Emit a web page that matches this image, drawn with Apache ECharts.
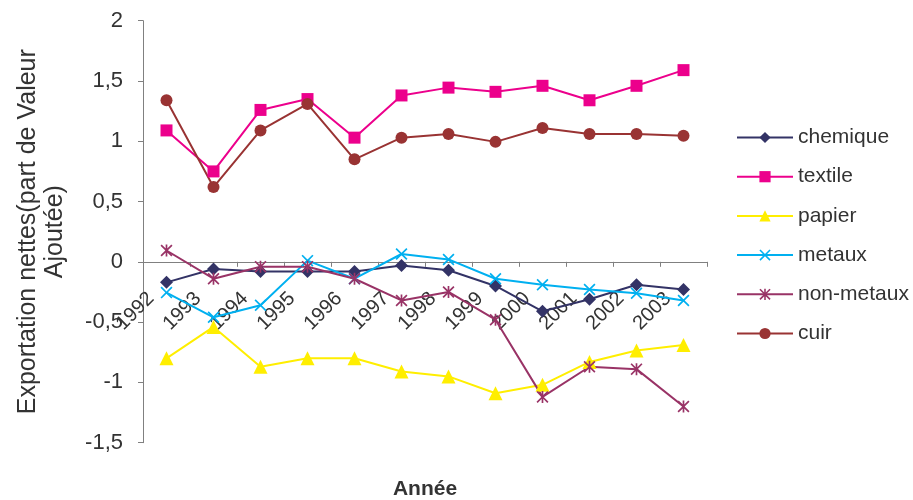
<!DOCTYPE html>
<html>
<head>
<meta charset="utf-8">
<script src="https://cdn.jsdelivr.net/npm/echarts@6/dist/echarts.min.js"></script>
<style>html,body{margin:0;padding:0;background:#fff}#c{width:913px;height:500px}</style>
</head>
<body>
<div id="c"></div>
<script>
const years = ['1992','1993','1994','1995','1996','1997','1998','1999','2000','2001','2002','2003'];
const chemique   = [-0.17,-0.06,-0.08,-0.08,-0.08,-0.03,-0.07,-0.20,-0.41,-0.31,-0.19,-0.23];
const textile    = [1.09,0.75,1.26,1.35,1.03,1.38,1.445,1.41,1.46,1.34,1.46,1.59];
const papier     = [-0.80,-0.54,-0.87,-0.80,-0.80,-0.91,-0.95,-1.09,-1.02,-0.83,-0.735,-0.69];
const metaux     = [-0.255,-0.46,-0.36,0.01,-0.14,0.065,0.02,-0.14,-0.19,-0.23,-0.26,-0.32];
const nonMetaux  = [0.094,-0.14,-0.04,-0.04,-0.14,-0.32,-0.25,-0.48,-1.12,-0.87,-0.89,-1.20];
const cuir       = [1.34,0.62,1.09,1.31,0.85,1.03,1.06,0.995,1.11,1.06,1.06,1.045];
const seriesNames = ['chemique','textile','papier','metaux','non-metaux','cuir'];

const X_PATH = 'path://M10 0L50 40L90 0L100 10L60 50L100 90L90 100L50 60L10 100L0 90L40 50L0 10Z';
const STAR_PATH = 'path://M10 0L50 40L90 0L100 10L60 50L100 90L90 100L50 60L10 100L0 90L40 50L0 10Z M43 0L57 0L57 100L43 100Z';

const FONT = 'Liberation Sans, Arial, sans-serif';
const TXT = '#333333';
const Y_MIN = -1.5, Y_MAX = 2;

function mk(name, data, color, symbol, size) {
  return {
    name: name, type: 'line', data: data,
    symbol: symbol, symbolSize: size,
    showAllSymbol: true,
    itemStyle: { color: color },
    lineStyle: { color: color, width: 2 },
    emphasis: { disabled: true },
    animation: false
  };
}

const chart = echarts.init(document.getElementById('c'), null, { renderer: 'canvas' });
chart.setOption({
  animation: false,
  grid: { left: 143, right: 206, top: 20.7, bottom: 57.3, containLabel: false, outerBoundsMode: 'none' },
  legend: {
    orient: 'vertical', left: 736, top: 127, padding: 0,
    itemWidth: 56, itemHeight: 14, itemGap: 18.2,
    data: seriesNames,
    textStyle: { fontFamily: FONT, fontSize: 21, color: TXT, lineHeight: 20 }
  },
  xAxis: [{
    type: 'category', data: years, boundaryGap: true, position: 'bottom',
    axisLine: { onZero: false, lineStyle: { color: '#808080', width: 1 } },
    axisTick: { show: true, length: 5, alignWithLabel: false, lineStyle: { color: '#808080' } },
    axisLabel: { interval: 0, rotate: 45, margin: 18, padding: [0, 22, 0, 0],
      fontFamily: FONT, fontSize: 20, color: TXT },
    splitLine: { show: false }
  }, {
    type: 'category', data: years, position: 'bottom',
    axisLine: { show: false, onZero: false }, axisTick: { show: false }, axisLabel: { show: false },
    name: 'Année', nameLocation: 'middle', nameGap: 36,
    nameTextStyle: { fontFamily: FONT, fontSize: 21, fontWeight: 'bold', color: TXT }
  }],
  yAxis: {
    type: 'value', min: Y_MIN, max: Y_MAX, interval: 0.5,
    axisLine: { show: true, lineStyle: { color: '#808080', width: 1 } },
    axisTick: { show: true, length: 5, lineStyle: { color: '#808080' } },
    axisLabel: { margin: 20, fontFamily: FONT, fontSize: 22, color: TXT,
      formatter: v => String(v).replace('.', ',') },
    splitLine: { show: false },
    name: 'Exportation nettes(part de Valeur\nAjoutée)',
    nameLocation: 'middle', nameRotate: 90, nameGap: 74,
    nameTextStyle: { fontFamily: FONT, fontSize: 25, color: TXT, lineHeight: 27, align: 'center' }
  },
  series: [
    mk('chemique', chemique, '#333366', 'diamond', 13),
    mk('textile', textile, '#ec008c', 'rect', 12),
    mk('papier', papier, '#ffee00', 'triangle', 14),
    mk('metaux', metaux, '#00b0f0', X_PATH, 12),
    mk('non-metaux', nonMetaux, '#993366', STAR_PATH, 12),
    mk('cuir', cuir, '#993333', 'circle', 12)
  ]
});
// Place the category axis (line, ticks, labels) on the value 0 using the library's own scale
const pZero = chart.convertToPixel({ yAxisIndex: 0 }, 0);
const pMin = chart.convertToPixel({ yAxisIndex: 0 }, Y_MIN);
chart.setOption({ xAxis: [{ offset: -(pMin - pZero) }, {}] });
</script>
</body>
</html>
